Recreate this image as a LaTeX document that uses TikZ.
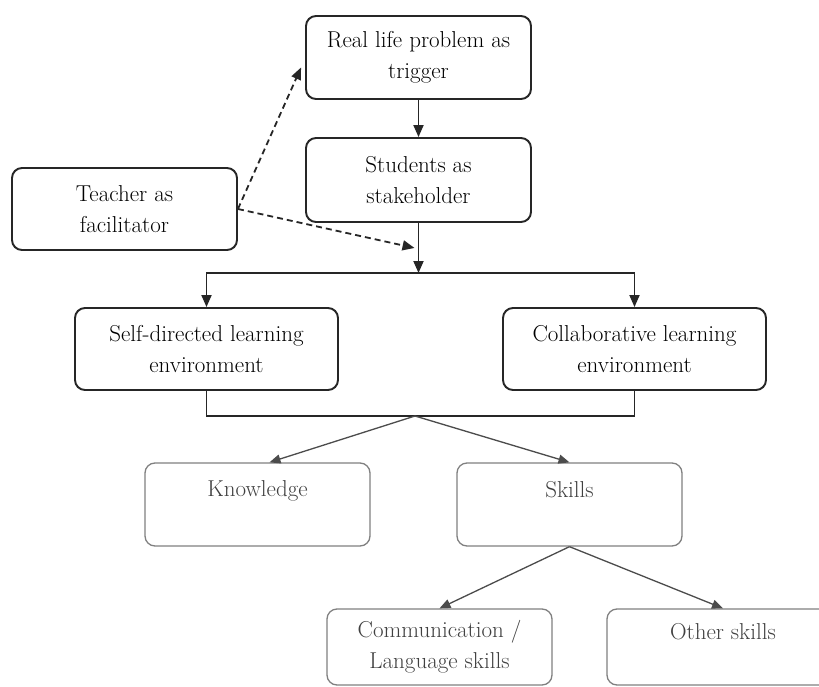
\documentclass[tikz,border=0pt]{standalone}
\usetikzlibrary{arrows.meta,calc}

\begin{document}
\begin{tikzpicture}[x=1pt,y=-1pt,font=\fontsize{23}{31}\selectfont,
    box/.style={draw=black!85,line width=1.9pt,rounded corners=10pt,align=center,inner sep=0pt,minimum width=225pt,minimum height=83pt,text=black},
    widebox/.style={box,minimum width=263pt,minimum height=82pt},
    softbox/.style={draw=black!50,line width=1.3pt,rounded corners=10pt,align=center,inner sep=0pt,minimum width=225pt,minimum height=83pt,text=black!75},
    arr/.style={-{Triangle[length=12pt,width=10pt]},line width=1.8pt,draw=black!85},
    helparr/.style={arr,dash pattern=on 6pt off 4pt},
    softarr/.style={-{Triangle[length=11pt,width=9pt]},line width=1.3pt,draw=black!70}]
\path[clip,use as bounding box] (0,0) rectangle (819,687);
\fill[white] (0,0) rectangle (819,687);
% top of the chain
\node[box] (real) at (418.5,57.5) {Real life problem as\\trigger};
\node[box,minimum height=84pt] (stud) at (418.5,180) {Students as\\stakeholder};
\node[box,minimum height=82pt] (teach) at (124.5,209) {Teacher as\\facilitator};
\coordinate (split) at (418.5,273);
% the two environments
\node[widebox] (self) at (206.5,349) {Self-directed learning\\environment};
\node[widebox] (collab) at (634.5,349) {Collaborative learning\\environment};
\coordinate (join) at (415,416);
% outcomes
\node[softbox] (know) at (257.5,504.5) {Knowledge\\ \mbox{}};
\node[softbox] (skill) at (569.5,504.5) {Skills\\ \mbox{}};
\node[softbox,minimum height=76pt] (comm) at (439.5,647) {Communication /\\Language skills};
\node[softbox,minimum width=232pt,minimum height=76pt] (other) at (723,647) {Other skills\\ \mbox{}};

\draw[arr] (real) -- (stud);
\draw[arr] (stud) -- (split);
\draw[arr] (split) -| (self);
\draw[arr] (split) -| (collab);
\draw[helparr] (teach.east) -- ($(real.west)+(-4,10)$);
\draw[helparr] (teach.east) -- ($(stud.south)!.5!(split)+(-4,0)$);
\draw[line width=1.8pt,draw=black!85] (self) |- (join) -| (collab);
\draw[softarr] (join) -- ($(know.north)+(12,0)$);
\draw[softarr] (join) -- (skill.north);
\draw[softarr] (skill.south) -- (comm.north);
\draw[softarr] (skill.south) -- (other.north);
\end{tikzpicture}
\end{document}
